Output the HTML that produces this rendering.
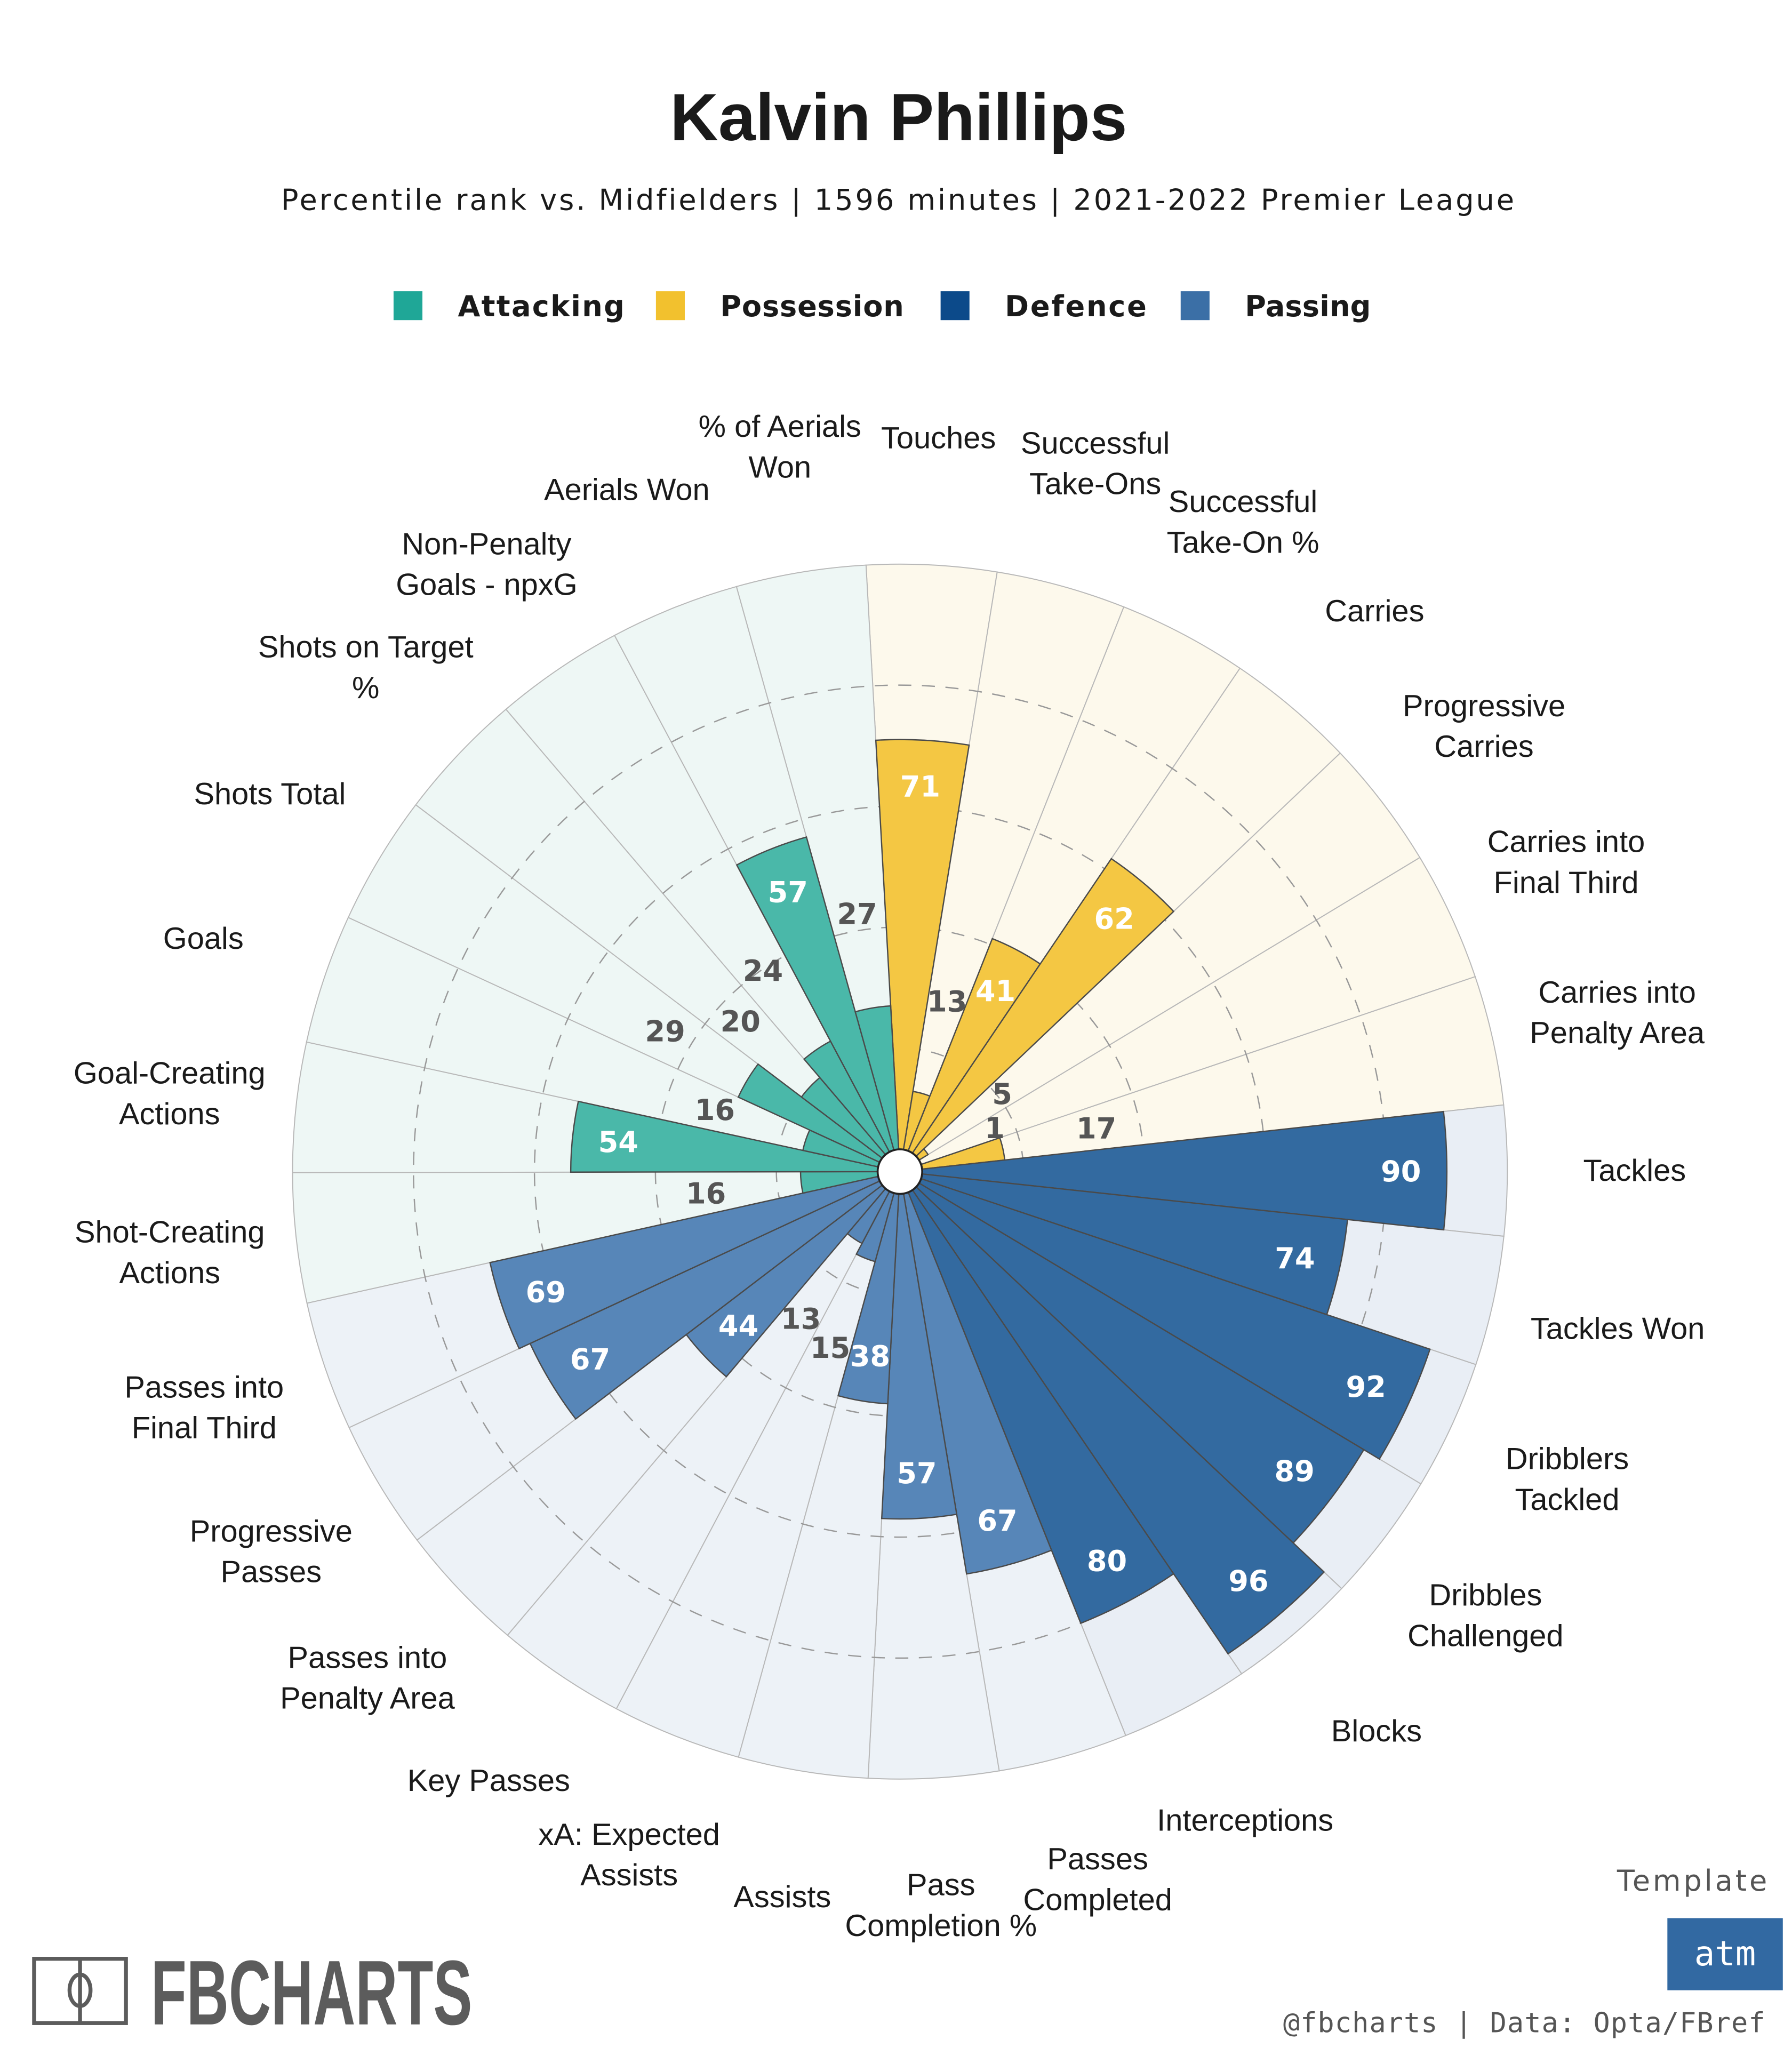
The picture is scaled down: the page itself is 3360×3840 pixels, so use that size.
<!DOCTYPE html>
<html><head><meta charset="utf-8"><style>
html,body{margin:0;padding:0;background:#fff;}
svg{display:block;}
</style></head><body>
<svg id="chart" width="3360" height="3840" viewBox="0 0 1366 1561" preserveAspectRatio="none" xmlns="http://www.w3.org/2000/svg">
<rect x="0" y="0" width="1366" height="1561" fill="#ffffff"/>
<text x="685" y="107" text-anchor="middle" font-family="Liberation Sans, sans-serif" font-weight="bold" font-size="51" fill="#1a1a1a">Kalvin Phillips</text>
<text x="685" y="160" text-anchor="middle" font-family="DejaVu Sans, sans-serif" font-size="22" letter-spacing="1.6" fill="#1a1a1a">Percentile rank vs. Midfielders | 1596 minutes | 2021-2022 Premier League</text>
<g id="legend"></g>
<g id="slices"></g>
<g id="grid"></g>
<g id="bars"></g>
<g id="vals"></g>
<g id="cats"></g>
<circle cx="686" cy="893" r="17" fill="#fff" stroke="#222" stroke-width="1.5"/>
<g>
<rect x="26" y="1493" width="70" height="49" fill="none" stroke="#5c5c5c" stroke-width="3"/>
<line x1="61" y1="1493" x2="61" y2="1542" stroke="#5c5c5c" stroke-width="3"/>
<ellipse cx="61" cy="1517" rx="8" ry="12" fill="none" stroke="#5c5c5c" stroke-width="3"/>
<text x="115" y="1543" font-family="Liberation Sans Narrow, Liberation Sans, sans-serif" font-weight="bold" font-size="70" textLength="245" lengthAdjust="spacingAndGlyphs" fill="#5c5c5c">FBCHARTS</text>
</g>
<text x="1349" y="1441" text-anchor="end" font-family="DejaVu Sans, sans-serif" font-size="22" letter-spacing="2" fill="#555">Template</text>
<rect x="1271" y="1462" width="88" height="55" fill="#3269a2"/>
<text x="1315" y="1498" text-anchor="middle" font-family="DejaVu Sans Mono, monospace" font-size="26" fill="#fff">atm</text>
<text x="1346" y="1549" text-anchor="end" font-family="DejaVu Sans Mono, monospace" font-size="21" letter-spacing="0.5" fill="#555">@fbcharts | Data: Opta/FBref</text>
</svg>
<script>
const categories = ["Touches","Successful\nTake-Ons","Successful\nTake-On %","Carries","Progressive\nCarries","Carries into\nFinal Third","Carries into\nPenalty Area",
"Tackles","Tackles Won","Dribblers\nTackled","Dribbles\nChallenged","Blocks","Interceptions",
"Passes\nCompleted","Pass\nCompletion %","Assists","xA: Expected\nAssists","Key Passes","Passes into\nPenalty Area","Progressive\nPasses","Passes into\nFinal Third",
"Shot-Creating\nActions","Goal-Creating\nActions","Goals","Shots Total","Shots on Target\n%","Non-Penalty\nGoals - npxG","Aerials Won","% of Aerials\nWon"];
const values = [71,13,41,62,5,1,17, 90,74,92,89,96,80, 67,57,38,15,13,44,67,69, 16,54,16,29,20,24,57,27];
const groups = ["P","P","P","P","P","P","P","D","D","D","D","D","D","S","S","S","S","S","S","S","S","A","A","A","A","A","A","A","A"];
const groupNames = ["Attacking","Possession","Defence","Passing"];
const groupKeys = ["A","P","D","S"];
const gridTicks = [20,40,60,80];

const legendColor = {A:"#1fa797",P:"#f2c12e",D:"#0c4a8a",S:"#3b6fa6"};
const barColor = {A:"#4ab8a9",P:"#f4c743",D:"#336aa0",S:"#5786b8"};
const bgColor = {A:"#eef7f5",P:"#fdf9ec",D:"#e9eef5",S:"#edf2f7"};
const NS="http://www.w3.org/2000/svg";
const cx=686, cy=893, R=463, n=categories.length, step=360/n, start=-3.2;
const rScale = v => 2 + v*4.61;
function pt(r,a){const t=a*Math.PI/180;return [cx+r*Math.sin(t), cy-r*Math.cos(t)];}
function wedge(r0,r1,a0,a1){
  const p1=pt(r1,a0),p2=pt(r1,a1),p3=pt(r0,a1),p4=pt(r0,a0);
  return `M${p4[0]},${p4[1]}L${p1[0]},${p1[1]}A${r1},${r1} 0 0 1 ${p2[0]},${p2[1]}L${p3[0]},${p3[1]}A${r0},${r0} 0 0 0 ${p4[0]},${p4[1]}Z`;
}
function mk(tag,attrs,parent){const e=document.createElementNS(NS,tag);for(const k in attrs)e.setAttribute(k,attrs[k]);parent.appendChild(e);return e;}
const gS=document.getElementById('slices'),gG=document.getElementById('grid'),gB=document.getElementById('bars'),gV=document.getElementById('vals'),gC=document.getElementById('cats'),gL=document.getElementById('legend');

let lx=[300,500,717,900];
let tw=[127,140,108,96];
groupKeys.forEach((k,i)=>{
  const r=mk('rect',{x:lx[i],y:222,width:22,height:22,fill:legendColor[k]},gL);
  
  
  const t=mk('text',{x:lx[i]+49,y:241,'font-family':'DejaVu Sans, sans-serif','font-weight':'bold','font-size':22,textLength:tw[i],lengthAdjust:'spacing',fill:'#1a1a1a'},gL);
  t.textContent=groupNames[i];
  
  
});

for(let i=0;i<n;i++){
  const a0=start+i*step,a1=a0+step,am=a0+step/2,g=groups[i];
  const s=mk('path',{d:wedge(17,R,a0,a1),fill:bgColor[g],stroke:'#b8b8b8','stroke-width':0.8},gS);
  
  
  const b=mk('path',{d:wedge(17,Math.max(rScale(values[i]),17),a0,a1),fill:barColor[g],stroke:'#4a4a4a','stroke-width':1},gB);
  
  
  const v=values[i];
  let lr,col;
  if(v>=35){lr=rScale(v)-35;col='#ffffff';}else{lr=rScale(v)+73;col='#555555';}
  const p=pt(lr,am);
  const t=mk('text',{x:p[0],y:p[1]+8,'text-anchor':'middle','font-family':'DejaVu Sans, sans-serif','font-weight':'bold','font-size':22,fill:col},gV);
  t.textContent=v;
  
  
  const lines=categories[i].split('\n');
  const cp=pt(560,am);
  const ct=mk('text',{x:cp[0],y:cp[1]+8-(lines.length-1)*15.5,'text-anchor':'middle','font-family':'Liberation Sans, Arial, sans-serif','font-size':23.5,fill:'#1a1a1a'},gC);
  lines.forEach((ln,j)=>{const ts=mk('tspan',{x:cp[0],dy:j?31:0},ct);ts.textContent=ln;});
  
  
}
gridTicks.forEach(tk=>{
  const c=mk('circle',{cx:cx,cy:cy,r:rScale(tk),fill:'none',stroke:'#999','stroke-width':1,'stroke-dasharray':'10 8'},gG);
  
  
});
gS.parentNode.insertBefore(gG,gB);
</script>
</body></html>
